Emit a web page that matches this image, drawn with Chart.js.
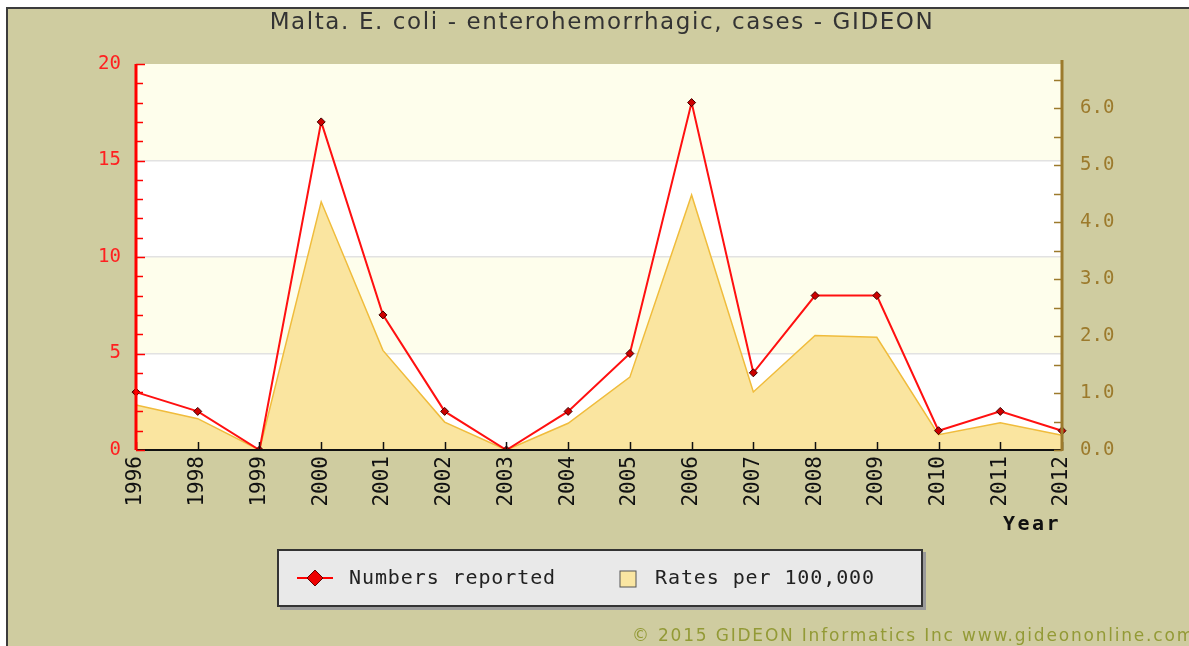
<!DOCTYPE html>
<html>
<head>
<meta charset="utf-8">
<script src="https://cdn.jsdelivr.net/npm/chart.js@4.4.1/dist/chart.umd.min.js"></script>
<style>
  body { margin: 0; width: 1189px; height: 646px; overflow: hidden; position: relative; background: #fff; font-family: "DejaVu Sans", sans-serif; }
  #marco { position: absolute; left: 6px; top: 7px; right: 0; bottom: 0; background: #cfcca0; border-left: 2px solid #3c3c3c; border-top: 2px solid #3c3c3c; }
  #lienzo { position: absolute; left: 0; top: 0; }
  #titulo { position: absolute; left: 0; top: 8px; width: 1204px; text-align: center; font-size: 23px; letter-spacing: 1.6px; color: #333; }
  #anio { position: absolute; left: 1003px; top: 511px; font: bold 20px "DejaVu Sans Mono", monospace; letter-spacing: 2.5px; color: #111; }
  #leyenda { position: absolute; left: 277px; top: 549px; width: 646px; height: 58px; box-sizing: border-box; background: #e9e9e9; border: 2px solid #333; box-shadow: 3px 3px 0 #9a9a9a; font: 20px "DejaVu Sans Mono", monospace; letter-spacing: 0.9px; color: #222; }
  #leyenda span { position: absolute; top: 14px; }
  #leyenda svg { position: absolute; }
  #copy { position: absolute; left: 632px; top: 625px; white-space: nowrap; font-size: 17px; letter-spacing: 1.8px; color: #939a36; }
</style>
</head>
<body>
<div id="marco"></div>
<canvas id="lienzo" width="1189" height="646"></canvas>
<div id="titulo">Malta. E. coli - enterohemorrhagic, cases - GIDEON</div>
<div id="anio">Year</div>
<div id="leyenda">
  <svg style="left:16px;top:17px" width="40" height="20"><line x1="2" y1="10" x2="38" y2="10" stroke="#ff0000" stroke-width="2"/><polygon points="20,2 28,10 20,18 12,10" fill="#ee0000" stroke="#600" stroke-width="1"/></svg>
  <span style="left:70px">Numbers reported</span>
  <svg style="left:340px;top:19px" width="18" height="18"><rect x="1" y="1" width="16" height="16" fill="#fae6a2" stroke="#555" stroke-width="1"/></svg>
  <span style="left:376px">Rates per 100,000</span>
</div>
<div id="copy">© 2015 GIDEON Informatics Inc www.gideononline.com</div>
<script>
// datos
const anios = ['1996', '1998', '1999', '2000', '2001', '2002', '2003', '2004', '2005', '2006', '2007', '2008', '2009', '2010', '2011', '2012'];
const casos = [3, 2, 0, 17, 7, 2, 0, 2, 5, 18, 4, 8, 8, 1, 2, 1];
const tasas = [0.79, 0.55, 0, 4.36, 1.75, 0.49, 0, 0.47, 1.28, 4.48, 1.02, 2.01, 1.98, 0.27, 0.48, 0.26];
const bandas = [[15, 20], [5, 10]]; // franjas amarillas claras

const fuenteEje = { family: '"DejaVu Sans Mono", monospace', size: 19 };

// fondo de franjas del area del grafico
const fondo = {
  id: 'fondo',
  beforeDraw(chart) {
    const { ctx, chartArea: a, scales: { y } } = chart;
    ctx.save();
    ctx.fillStyle = '#ffffff';
    ctx.fillRect(a.left, a.top, a.right - a.left, a.bottom - a.top);
    ctx.fillStyle = '#fefeec';
    bandas.forEach(b => {
      const y1 = y.getPixelForValue(b[1]);
      const y0 = y.getPixelForValue(b[0]);
      ctx.fillRect(a.left, y1, a.right - a.left, y0 - y1);
    });
    ctx.restore();
  }
};

// ejes con marcas hacia dentro
const marcas = {
  id: 'marcas',
  afterDatasetsDraw(chart) {
    const { ctx, chartArea: a, scales: { x, y, y2 } } = chart;
    ctx.save();
    // eje x
    ctx.strokeStyle = '#111';
    ctx.lineWidth = 1.5;
    anios.forEach((_, i) => {
      const px = Math.round(x.getPixelForValue(i)) + 0.5;
      ctx.beginPath();
      ctx.moveTo(px, a.bottom);
      ctx.lineTo(px, a.bottom - 8);
      ctx.stroke();
    });
    ctx.lineWidth = 2;
    ctx.beginPath();
    ctx.moveTo(a.left, a.bottom);
    ctx.lineTo(a.right, a.bottom);
    ctx.stroke();

    // eje izquierdo rojo
    ctx.strokeStyle = '#ff0000';
    ctx.lineWidth = 1.5;
    for (let v = 0; v <= 20; v++) {
      const py = Math.round(y.getPixelForValue(v)) + 0.5;
      ctx.beginPath();
      ctx.moveTo(a.left, py);
      ctx.lineTo(a.left + (v % 5 === 0 ? 9 : 7), py);
      ctx.stroke();
    }
    ctx.lineWidth = 3;
    ctx.beginPath();
    ctx.moveTo(a.left, a.top);
    ctx.lineTo(a.left, a.bottom);
    ctx.stroke();

    // eje derecho marron
    ctx.strokeStyle = '#9c7a2c';
    ctx.lineWidth = 1.5;
    for (let v = 0; v <= 6.5; v += 0.5) {
      const py = Math.round(y2.getPixelForValue(v)) + 0.5;
      ctx.beginPath();
      ctx.moveTo(a.right, py);
      ctx.lineTo(a.right - 8, py);
      ctx.stroke();
    }
    ctx.lineWidth = 3;
    ctx.beginPath();
    ctx.moveTo(a.right, a.top - 4);
    ctx.lineTo(a.right, a.bottom + 1);
    ctx.stroke();
    ctx.restore();
  }
};

new Chart(document.getElementById('lienzo'), {
  type: 'line',
  data: {
    labels: anios,
    datasets: [
      {
        label: 'Numbers reported',
        data: casos,
        yAxisID: 'y',
        borderColor: '#ff1010',
        borderWidth: 2,
        pointStyle: 'rectRot',
        pointRadius: 4,
        pointBackgroundColor: '#cc0000',
        pointBorderColor: '#400000',
        pointBorderWidth: 1,
        tension: 0,
        fill: false
      },
      {
        label: 'Rates per 100,000',
        data: tasas,
        yAxisID: 'y2',
        borderColor: '#f0bc3c',
        borderWidth: 1.5,
        backgroundColor: '#fae5a0',
        pointRadius: 0,
        tension: 0,
        fill: 'origin'
      }
    ]
  },
  options: {
    responsive: false,
    animation: false,
    devicePixelRatio: 1,
    layout: { padding: { top: 64, left: 0, right: 0, bottom: 0 } },
    plugins: {
      legend: { display: false },
      title: { display: false },
      tooltip: { enabled: false }
    },
    scales: {
      x: {
        type: 'category',
        offset: false,
        grid: { display: false, drawTicks: false },
        border: { display: false },
        ticks: { color: '#111', font: { family: fuenteEje.family, size: 21 }, minRotation: 90, maxRotation: 90, padding: 6, autoSkip: false },
        afterFit(s) { s.height = 196; }
      },
      y: {
        position: 'left',
        min: 0,
        max: 20,
        grid: {
          drawTicks: false,
          color: c => (c.tick.value === 0 || c.tick.value === 20) ? 'rgba(0,0,0,0)' : '#e2e2e2',
          lineWidth: 1.5
        },
        border: { display: false },
        ticks: { stepSize: 5, color: '#ff2020', font: fuenteEje, padding: 15 },
        afterFit(s) { s.width = 136; }
      },
      y2: {
        position: 'right',
        min: 0,
        max: 6.78,
        grid: { display: false, drawTicks: false },
        border: { display: false },
        ticks: { stepSize: 1, includeBounds: false, color: '#9c7a2c', font: fuenteEje, padding: 18, callback: v => Number(v).toFixed(1) },
        afterFit(s) { s.width = 127; }
      }
    }
  },
  plugins: [fondo, marcas]
});
</script>
</body>
</html>
